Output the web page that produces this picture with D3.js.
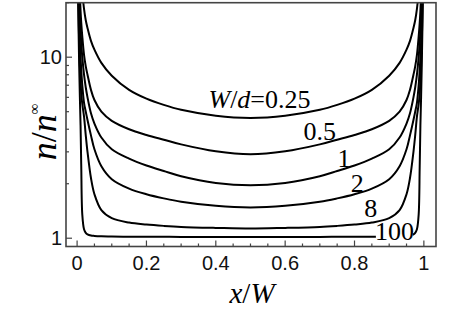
<!DOCTYPE html>
<html>
<head>
<meta charset="utf-8">
<script src="https://cdn.jsdelivr.net/npm/d3@7"></script>
<style>
  body { margin: 0; background: #fff; }
  #chart { width: 463px; height: 315px; }
</style>
</head>
<body>
<div id="chart"></div>
<script>
// x/W sample positions shared by every curve
let xPos = [0.002, 0.004, 0.006, 0.008, 0.01, 0.012, 0.015, 0.02, 0.025, 0.03, 0.04, 0.05, 0.07, 0.1, 0.15, 0.2, 0.25, 0.3, 0.4, 0.5,
	0.6, 0.7, 0.75, 0.8, 0.85, 0.9, 0.93, 0.95, 0.96, 0.97, 0.975, 0.98, 0.985, 0.988, 0.99, 0.992, 0.994, 0.996, 0.998];

// n/n_inf for each W/d
let wd025 = [120, 70, 50, 40, 33, 28, 23, 18.5, 16, 14.5, 12.3, 11, 9.3, 7.9, 6.6, 5.9, 5.45, 5.12, 4.75, 4.62,
	4.75, 5.12, 5.45, 5.9, 6.6, 7.9, 9.3, 11, 12.3, 14.5, 16, 18.5, 23, 28, 33, 40, 50, 70, 120];
let wd05 = [80, 45, 30, 22, 18, 15.5, 13, 10.3, 8.9, 8.0, 6.6, 5.8, 5.0, 4.45, 4.0, 3.72, 3.5, 3.3, 3.02, 2.91,
	3.02, 3.3, 3.5, 3.72, 4.0, 4.45, 5.0, 5.8, 6.6, 8.0, 8.9, 10.3, 13, 15.5, 18, 22, 30, 45, 80];
let wd1 = [60, 32, 22, 17, 14, 12, 10, 8, 6.8, 6.0, 4.9, 4.3, 3.6, 3.1, 2.75, 2.52, 2.35, 2.2, 2.02, 1.96,
	2.02, 2.2, 2.35, 2.52, 2.75, 3.1, 3.6, 4.3, 4.9, 6.0, 6.8, 8, 10, 12, 14, 17, 22, 32, 60];
let wd2 = [45, 24, 16, 12, 10, 8.5, 7, 5.6, 5.0, 4.5, 3.7, 3.1, 2.5, 2.12, 1.88, 1.75, 1.66, 1.59, 1.51, 1.48,
	1.51, 1.59, 1.66, 1.75, 1.88, 2.12, 2.5, 3.1, 3.7, 4.5, 5.0, 5.6, 7, 8.5, 10, 12, 16, 24, 45];
let wd8 = [35, 18, 12, 9, 7.5, 6.3, 5.5, 4.7, 3.7, 3.0, 2.15, 1.75, 1.43, 1.29, 1.22, 1.19, 1.17, 1.155, 1.14, 1.13,
	1.14, 1.155, 1.17, 1.19, 1.22, 1.29, 1.43, 1.75, 2.15, 3.0, 3.7, 4.7, 5.5, 6.3, 7.5, 9, 12, 18, 35];
let wd100 = [30, 15, 9, 6, 4.2, 2.5, 1.35, 1.12, 1.07, 1.05, 1.035, 1.03, 1.025, 1.022, 1.02, 1.02, 1.018, 1.017, 1.016, 1.016,
	1.016, 1.017, 1.018, 1.02, 1.02, 1.022, 1.025, 1.03, 1.035, 1.05, 1.07, 1.12, 1.35, 2.5, 4.2, 6, 9, 15, 30];

let seriesValues = [wd025, wd05, wd1, wd2, wd8, wd100];
let seriesNames = ["0.25", "0.5", "1", "2", "8", "100"];

let xTicks = [0, 0.2, 0.4, 0.6, 0.8, 1];
let xTickLabels = ["0", "0.2", "0.4", "0.6", "0.8", "1"];
let xMinorTicks = [0.05, 0.1, 0.15, 0.25, 0.3, 0.35, 0.45, 0.5, 0.55, 0.65, 0.7, 0.75, 0.85, 0.9, 0.95];
let yTicks = [1, 10];
let yTickLabels = ["1", "10"];
let yMinorTicks = [2, 3, 4, 5, 6, 7, 8, 9, 20];

let draw = () => {
	let width = 463;
	let height = 315;
	let frame = { left: 66, right: 436, top: 2.7, bottom: 246.5 };

	let svg = d3.select("#chart").append("svg")
		.attr("width", width)
		.attr("height", height);

	let xScale = d3.scaleLinear().domain([-0.032, 1.035]).range([frame.left, frame.right]);
	let yScale = d3.scaleLog().domain([0.9, 20]).range([frame.bottom, frame.top]);

	svg.append("clipPath").attr("id", "plotclip")
		.append("rect")
		.attr("x", frame.left).attr("y", frame.top)
		.attr("width", frame.right - frame.left)
		.attr("height", frame.bottom - frame.top);

	let line = d3.line()
		.x((d) => xScale(d[0]))
		.y((d) => yScale(d[1]))
		.curve(d3.curveCatmullRom.alpha(0.5));

	let plot = svg.append("g").attr("clip-path", "url(#plotclip)");
	seriesValues.forEach((vals) => {
		plot.append("path")
			.attr("d", line(xPos.map((xv, i) => [xv, vals[i]])))
			.attr("fill", "none")
			.attr("stroke", "#000")
			.attr("stroke-width", 2);
	});

	// curve labels, anchored in data units
	let labelAt = [[0.526, 5.24], [0.70, 3.49], [0.77, 2.47], [0.808, 1.80], [0.847, 1.31], [0.915, 0.977]];
	let labels = svg.append("g")
		.attr("font-family", "'Liberation Serif', 'Times New Roman', serif")
		.attr("font-size", 26)
		.attr("text-anchor", "middle")
		.attr("fill", "#000");
	seriesNames.forEach((name, i) => {
		let px = xScale(labelAt[i][0]);
		let py = yScale(labelAt[i][1]);
		let g = labels.append("g");
		let t = g.append("text").attr("x", px).attr("y", py);
		if (i === 0) {
			t.append("tspan").attr("font-style", "italic").text("W");
			t.append("tspan").text("/");
			t.append("tspan").attr("font-style", "italic").text("d");
			t.append("tspan").text("=" + name);
		} else {
			t.text(name);
		}
		if (name === "100") {
			let bb = t.node().getBBox();
			g.insert("rect", "text")
				.attr("x", bb.x + 1).attr("y", bb.y + 6)
				.attr("width", bb.width - 2).attr("height", bb.height - 10)
				.attr("fill", "#fff");
		}
	});

	// frame
	svg.append("rect")
		.attr("x", frame.left).attr("y", frame.top)
		.attr("width", frame.right - frame.left)
		.attr("height", frame.bottom - frame.top)
		.attr("fill", "none")
		.attr("stroke", "#444")
		.attr("stroke-width", 1.6);

	let ticks = svg.append("g").attr("stroke", "#444").attr("stroke-width", 1.2);
	xTicks.forEach((v) => {
		ticks.append("line").attr("x1", xScale(v)).attr("x2", xScale(v))
			.attr("y1", frame.bottom).attr("y2", frame.bottom - 6);
	});
	xMinorTicks.forEach((v) => {
		ticks.append("line").attr("x1", xScale(v)).attr("x2", xScale(v))
			.attr("y1", frame.bottom).attr("y2", frame.bottom - 3);
	});
	yTicks.forEach((v) => {
		ticks.append("line").attr("y1", yScale(v)).attr("y2", yScale(v))
			.attr("x1", frame.left).attr("x2", frame.left + 6);
	});
	yMinorTicks.forEach((v) => {
		ticks.append("line").attr("y1", yScale(v)).attr("y2", yScale(v))
			.attr("x1", frame.left).attr("x2", frame.left + 3);
	});

	let tickText = svg.append("g")
		.attr("font-family", "'Liberation Sans', Arial, sans-serif")
		.attr("font-size", 20)
		.attr("fill", "#111");
	xTicks.forEach((v, i) => {
		tickText.append("text")
			.attr("x", xScale(v)).attr("y", 270)
			.attr("text-anchor", "middle")
			.text(xTickLabels[i]);
	});
	yTicks.forEach((v, i) => {
		tickText.append("text")
			.attr("x", frame.left - 4).attr("y", yScale(v))
			.attr("dy", "0.36em")
			.attr("text-anchor", "end")
			.text(yTickLabels[i]);
	});

	// axis titles
	let xt = svg.append("text")
		.attr("x", 252).attr("y", 303)
		.attr("text-anchor", "middle")
		.attr("font-family", "'Liberation Serif', 'Times New Roman', serif")
		.attr("font-size", 29);
	xt.append("tspan").attr("font-style", "italic").text("x");
	xt.append("tspan").text("/");
	xt.append("tspan").attr("font-style", "italic").text("W");

	let yt = svg.append("text")
		.attr("transform", "translate(56,132) rotate(-90)")
		.attr("text-anchor", "middle")
		.attr("font-family", "'Liberation Serif', 'Times New Roman', serif")
		.attr("font-size", 36);
	yt.append("tspan").attr("font-style", "italic").text("n");
	yt.append("tspan").text("/");
	yt.append("tspan").attr("font-style", "italic").text("n");
	yt.append("tspan").attr("font-size", 15).attr("dy", -17).text("∞");
};
draw();
</script>
</body>
</html>
